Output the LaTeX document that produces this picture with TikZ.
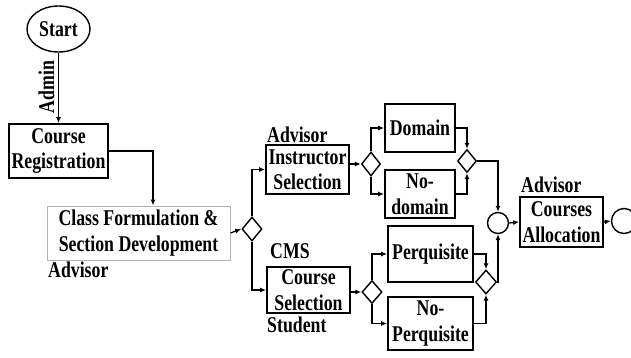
\documentclass[tikz,border=0pt]{standalone}
\usepackage{fontspec}
\setmainfont{Liberation Serif}[FakeStretch=0.79]
\usetikzlibrary{arrows.meta,shapes.geometric}
\begin{document}
\begin{tikzpicture}[x=1pt,y=-1pt,
  font=\fontsize{22.5}{25.5}\selectfont\bfseries,
  box/.style={draw, line width=1.8pt, align=center, inner sep=0pt},
  lightbox/.style={draw=gray!60, line width=1pt, align=center, inner sep=0pt},
  gate/.style={draw, diamond, line width=1.4pt, minimum width=20pt, minimum height=24pt, inner sep=0pt},
  joint/.style={draw, circle, line width=1.4pt, minimum size=#1, inner sep=0pt},
  role/.style={anchor=base west, inner sep=0pt},
  flow/.style={line width=1.3pt, -{Latex[length=6pt,width=5pt]}},
  link/.style={line width=1.3pt}
]
\useasboundingbox (0,0) rectangle (631,357);

% start event
\node[draw, ellipse, line width=1.4pt, minimum width=63pt, minimum height=46pt, inner sep=0pt] (start) at (58.5,29) {Start};

% activities
\node[box, minimum width=99pt, minimum height=54pt] (cr) at (58.5,151) {Course\\Registration};
\node[lightbox, minimum width=183pt, minimum height=54pt] (cf) at (138.5,233) {Class Formulation \&\\Section Development};
\node[box, minimum width=83pt, minimum height=49pt] (is) at (307.5,169.5) {Instructor\\Selection};
\node[box, minimum width=70pt, minimum height=48pt] (dom) at (420,128) {Domain};
\node[box, minimum width=70pt, minimum height=48pt] (nodom) at (420,194) {No-\\domain};
\node[box, minimum width=83pt, minimum height=46pt] (cs) at (308.5,290) {Course\\Selection};
\node[box, minimum width=85pt, minimum height=56pt] (per) at (430.5,254) {Perquisite};
\node[box, minimum width=85pt, minimum height=53pt] (noper) at (430.5,323.5) {No-\\Perquisite};
\node[box, minimum width=83pt, minimum height=50pt] (ca) at (561.5,222) {Courses\\Allocation};

% gateways
\node[gate] (g1) at (252,229) {};
\node[gate, minimum width=19pt] (g2) at (371,164) {};
\node[gate, minimum width=19pt, minimum height=23pt] (g3) at (467,161) {};
\node[gate, minimum height=23pt] (g4) at (372,292) {};
\node[gate, minimum width=21pt] (g5) at (486,282) {};

% merge and end events
\node[joint=21pt] (mc) at (498,223) {};
\node[joint=25pt] (end) at (624,221) {};

% role labels
\node[rotate=90, inner sep=0pt] (admin) at (46.5,87) {Admin};
\node[role] (adv1) at (48,277) {Advisor};
\node[role] (adv2) at (267,142) {Advisor};
\node[role] (cms) at (270,258) {CMS};
\node[role] (stu) at (267,332) {Student};
\node[role] (adv3) at (521,192) {Advisor};

% sequence flows
\draw[flow] (start.south) -- (cr.north);
\draw[flow] (cr.east) -| ([xshift=14.5pt]cf.north);
\draw[flow] (cf.east) -- (g1.west);
\draw[flow] (g1.north) |- (is.west);
\draw[flow] (g1.south) |- (cs.west);
\draw[flow] (is.east |- g2.west) -- (g2.west);
\draw[flow] (g2.north) |- (dom.west);
\draw[flow] (g2.south) |- (nodom.west);
\draw[flow] (dom.east) -| (g3.north);
\draw[flow] (nodom.east) -| (g3.south);
\draw[flow] (g3.east) -| (mc.north);
\draw[flow] (cs.east |- g4.west) -- (g4.west);
\draw[flow] (g4.north) |- (per.west);
\draw[flow] (g4.south) |- (noper.west);
\draw[flow] (per.east) -| (g5.north);
\draw[flow] (noper.east) -| (g5.south);
\draw[flow] (g5.east) -| (mc.south);
\draw[flow] (mc.east) -- (ca.west);
\draw[flow] (ca.east) -- (end.west);
\end{tikzpicture}
\end{document}
